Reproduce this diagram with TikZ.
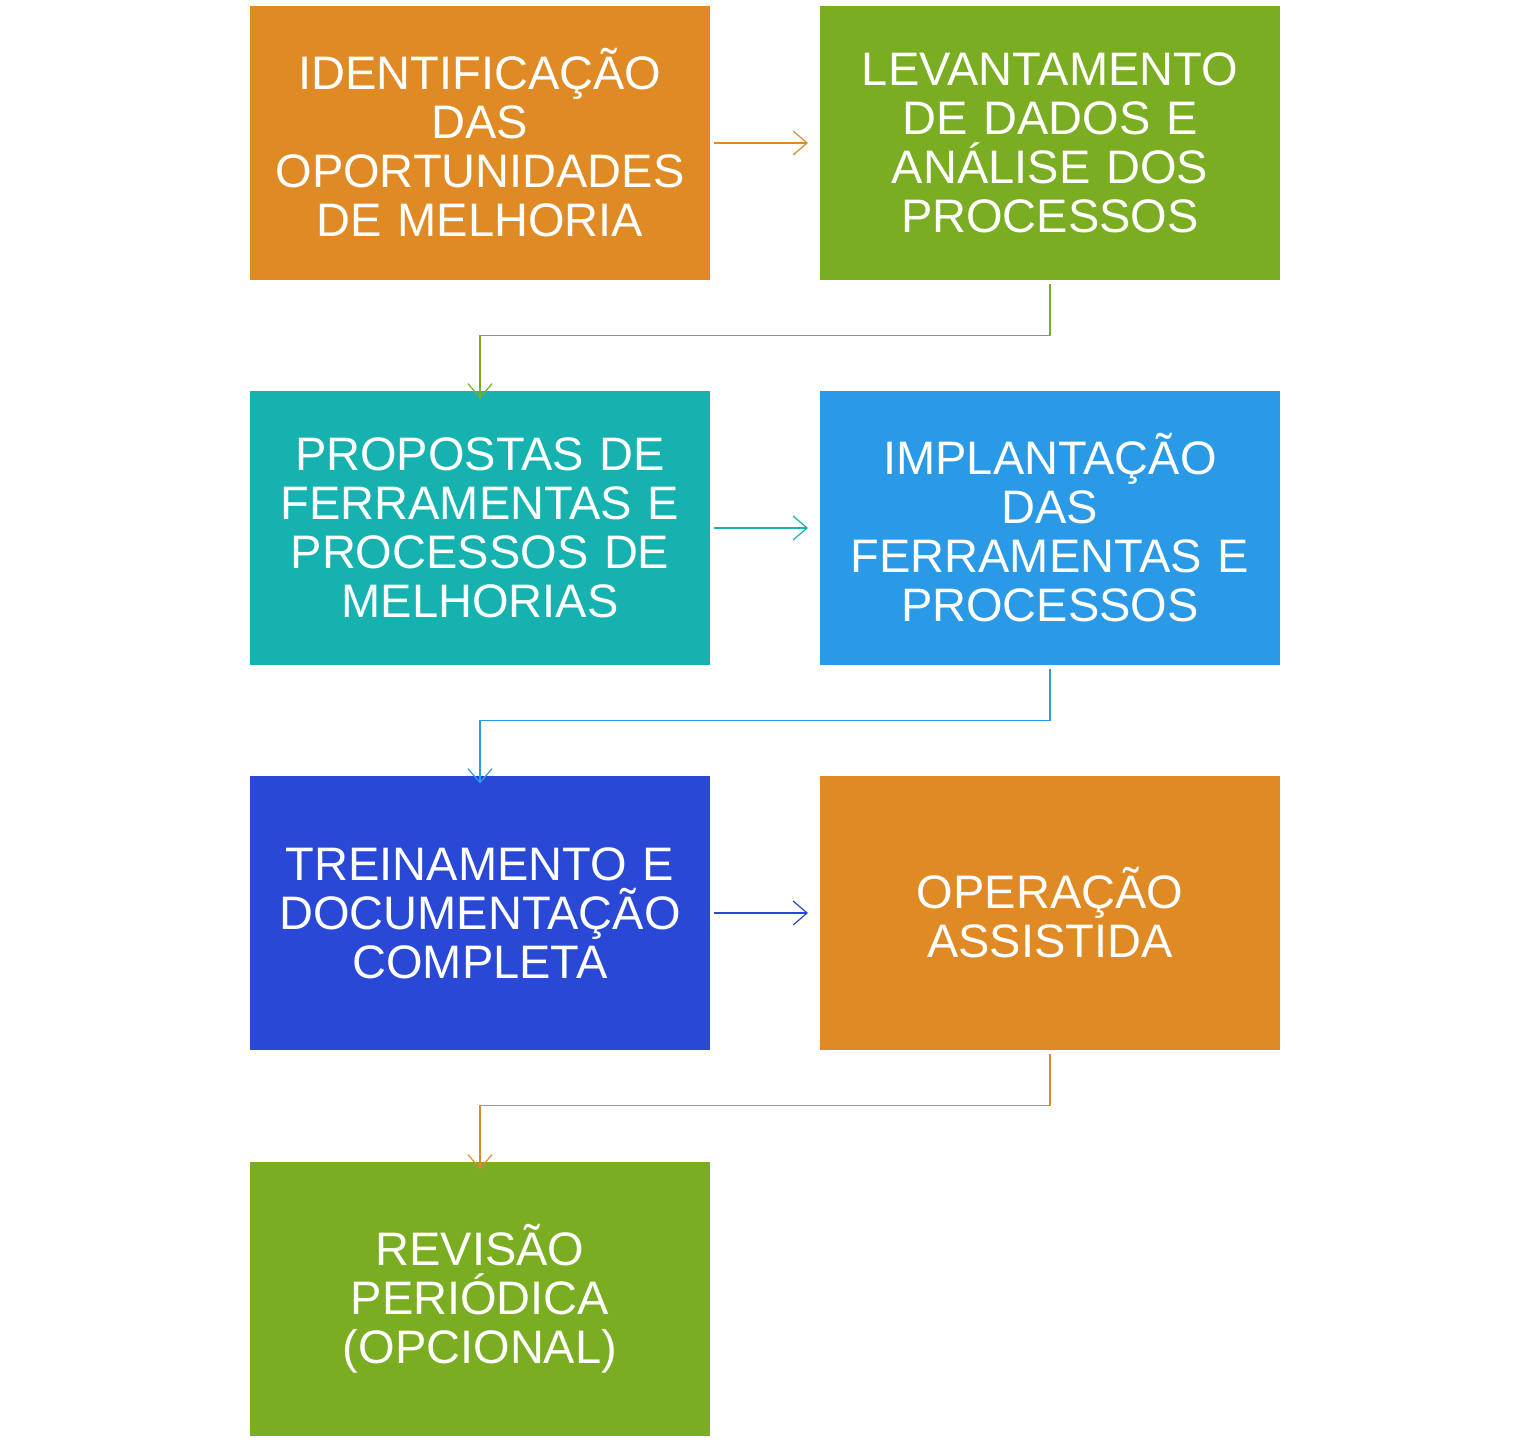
\documentclass[tikz,border=0pt]{standalone}
\usepackage{fontspec}
\setmainfont{Liberation Sans}
\usetikzlibrary{arrows.meta}
\definecolor{cOr}{HTML}{E08A26}
\definecolor{cGr}{HTML}{7AAD22}
\definecolor{cTe}{HTML}{16B2B0}
\definecolor{cBl}{HTML}{2B9AE6}
\definecolor{cDb}{HTML}{2A48D6}
\begin{document}
\begin{tikzpicture}[x=0.5pt,y=-0.5pt,
 box/.style={minimum width=230pt,minimum height=137pt,inner sep=0pt,text=white,align=center,text width=220pt,font=\fontsize{23.5pt}{24.5pt}\selectfont},
 arr/.style={line width=0.6pt,-{Straight Barb[length=7pt,width=12pt,line width=0.6pt]},shorten <=2pt,shorten >=0pt}]
\useasboundingbox (0,0) rectangle (1536,1444);
\node[box,fill=cOr] (a) at (480,143) {IDENTIFICAÇÃO\\DAS\\OPORTUNIDADES\\DE MELHORIA};
\node[box,fill=cGr] (b) at (1050,143) {LEVANTAMENTO\\DE DADOS E\\ANÁLISE DOS\\PROCESSOS};
\node[box,fill=cTe] (c) at (480,528) {PROPOSTAS DE\\FERRAMENTAS E\\PROCESSOS DE\\MELHORIAS};
\node[box,fill=cBl] (d) at (1050,528) {IMPLANTAÇÃO\\DAS\\FERRAMENTAS E\\PROCESSOS};
\node[box,fill=cDb] (e) at (480,913) {TREINAMENTO E\\DOCUMENTAÇÃO\\COMPLETA\\[24.5pt]};
\node[box,fill=cOr] (f) at (1050,913) {OPERAÇÃO\\ASSISTIDA};
\node[box,fill=cGr] (g) at (480,1299) {REVISÃO\\PERIÓDICA\\(OPCIONAL)};
\coordinate (ab) at (808,143);
\coordinate (cd) at (808,528);
\coordinate (ef) at (808,913);
\draw[arr,cOr] (a.east) -- (ab);
\draw[arr,cTe] (c.east) -- (cd);
\draw[arr,cDb] (e.east) -- (ef);
\draw[arr,cGr] (b.south) -- ++(0,55) -| ([yshift=-4pt]c.north);
\draw[arr,cBl] (d.south) -- ++(0,55) -| ([yshift=-4pt]e.north);
\draw[arr,cOr] (f.south) -- ++(0,55) -| ([yshift=-4pt]g.north);
\end{tikzpicture}
\end{document}
